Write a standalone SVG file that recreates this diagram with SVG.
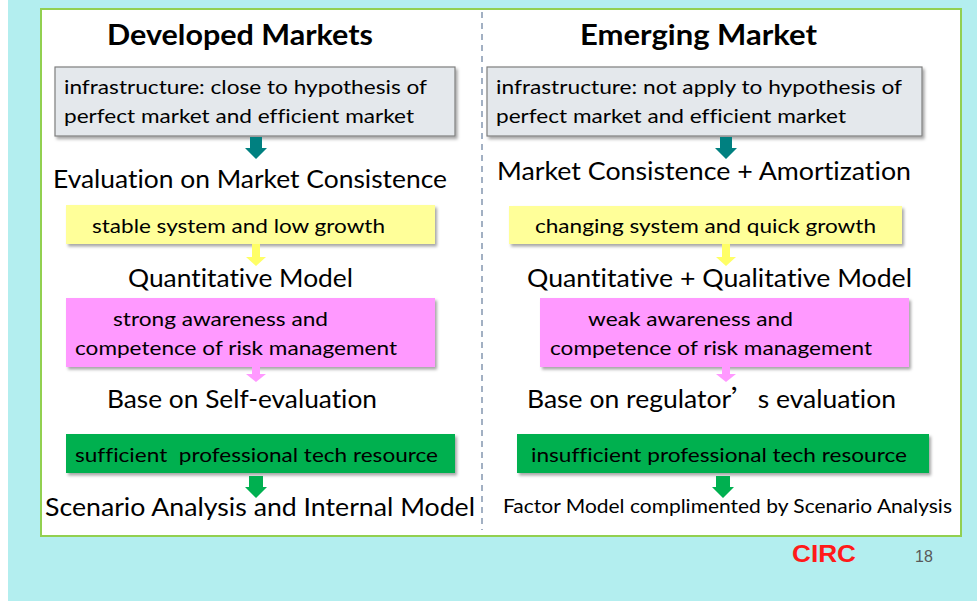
<svg xmlns="http://www.w3.org/2000/svg" width="977" height="601" viewBox="0 0 977 601">
<defs>
<filter id="sh" x="-5%" y="-10%" width="115%" height="140%">
<feDropShadow dx="2" dy="2.5" stdDeviation="1.5" flood-color="#000" flood-opacity="0.35"/>
</filter>
<style>
.t{font-family:Lato,"Open Sans","DejaVu Sans",sans-serif;fill:#000;font-variant-ligatures:none;font-feature-settings:"liga" 0,"clig" 0}
.h{font-weight:bold;font-size:28px}
.m{font-size:25px}
.b{font-size:20px}
.grey{fill:#e4e8ec;stroke:#7f7f7f;stroke-width:1.2}
.yel{fill:#ffff99}
.pink{fill:#ff99ff}
.grn{fill:#00b050}
</style>
</defs>
<rect x="0" y="0" width="977" height="601" fill="#b3eeef"/>
<rect x="0" y="0" width="8" height="601" fill="#ffffff"/>
<rect x="41" y="9" width="920" height="527" fill="#ffffff" stroke="#92d050" stroke-width="2"/>
<line x1="482" y1="12" x2="482" y2="530" stroke="#8497b0" stroke-width="1.5" stroke-dasharray="6,5"/>

<g id="title-dev"><text class="t h" x="107" y="45" textLength="266" lengthAdjust="spacingAndGlyphs">Developed Markets</text></g>
<g id="title-emg"><text class="t h" x="580" y="45" textLength="237" lengthAdjust="spacingAndGlyphs">Emerging Market</text></g>

<g id="infra-dev">
<rect class="grey" x="55" y="67" width="400" height="69" filter="url(#sh)"/>
<text class="t b" x="64" y="94" textLength="363" lengthAdjust="spacingAndGlyphs">infrastructure: close to hypothesis of</text>
<text class="t b" x="64" y="123" textLength="350" lengthAdjust="spacingAndGlyphs">perfect market and efficient market</text>
</g>
<g id="infra-emg">
<rect class="grey" x="487" y="67" width="435" height="69" filter="url(#sh)"/>
<text class="t b" x="496" y="94" textLength="406" lengthAdjust="spacingAndGlyphs">infrastructure: not apply to hypothesis of</text>
<text class="t b" x="496" y="123" textLength="350" lengthAdjust="spacingAndGlyphs">perfect market and efficient market</text>
</g>

<g id="eval-dev"><text class="t m" x="53" y="188" textLength="394" lengthAdjust="spacingAndGlyphs">Evaluation on Market Consistence</text></g>
<g id="eval-emg"><text class="t m" x="497" y="180" textLength="414" lengthAdjust="spacingAndGlyphs">Market Consistence + Amortization</text></g>

<g id="sys-dev">
<rect class="yel" x="66" y="205" width="369" height="39" filter="url(#sh)"/>
<text class="t b" x="92" y="233" textLength="293" lengthAdjust="spacingAndGlyphs">stable system and low growth</text>
</g>
<g id="sys-emg">
<rect class="yel" x="509" y="206" width="393" height="38" filter="url(#sh)"/>
<text class="t b" x="535" y="233" textLength="341" lengthAdjust="spacingAndGlyphs">changing system and quick growth</text>
</g>

<g id="model-dev"><text class="t m" x="128" y="287" textLength="225" lengthAdjust="spacingAndGlyphs">Quantitative Model</text></g>
<g id="model-emg"><text class="t m" x="527" y="287" textLength="385" lengthAdjust="spacingAndGlyphs">Quantitative + Qualitative Model</text></g>

<g id="risk-dev">
<rect class="pink" x="66" y="298" width="369" height="69" filter="url(#sh)"/>
<text class="t b" x="113" y="326" textLength="215" lengthAdjust="spacingAndGlyphs">strong awareness and</text>
<text class="t b" x="75" y="355" textLength="322" lengthAdjust="spacingAndGlyphs">competence of risk management</text>
</g>
<g id="risk-emg">
<rect class="pink" x="540" y="298" width="369" height="69" filter="url(#sh)"/>
<text class="t b" x="588" y="326" textLength="205" lengthAdjust="spacingAndGlyphs">weak awareness and</text>
<text class="t b" x="550" y="355" textLength="322" lengthAdjust="spacingAndGlyphs">competence of risk management</text>
</g>

<g id="base-dev"><text class="t m" x="107" y="408" textLength="270" lengthAdjust="spacingAndGlyphs">Base on Self-evaluation</text></g>
<g id="base-emg"><text class="t m" x="527" y="408" textLength="369" lengthAdjust="spacingAndGlyphs">Base on regulator<tspan font-family="'Noto Sans CJK SC',sans-serif">’</tspan>s evaluation</text></g>

<g id="tech-dev">
<rect class="grn" x="66" y="434" width="389" height="39" filter="url(#sh)"/>
<text class="t b" x="75" y="462" textLength="363" lengthAdjust="spacingAndGlyphs" xml:space="preserve">sufficient  professional tech resource</text>
</g>
<g id="tech-emg">
<rect class="grn" x="517" y="434" width="412" height="39" filter="url(#sh)"/>
<text class="t b" x="531" y="462" textLength="376" lengthAdjust="spacingAndGlyphs">insufficient professional tech resource</text>
</g>

<g id="out-dev"><text class="t m" x="45" y="516" textLength="430" lengthAdjust="spacingAndGlyphs">Scenario Analysis and Internal Model</text></g>
<g id="out-emg"><text class="t" font-size="18.5" x="503" y="513" textLength="449" lengthAdjust="spacingAndGlyphs">Factor Model complimented by Scenario Analysis</text></g>

<g id="connectors">
<path d="M250,137 H262 V148 H267 L256,159 L245,148 H250 Z" fill="#008080"/>
<path d="M720,137 H732 V148 H737 L726,159 L715,148 H720 Z" fill="#008080"/>
<path d="M252,244 H260 V257 H266 L256,266 L246,257 H252 Z" fill="#ffff66"/>
<path d="M722,244 H730 V257 H736 L726,266 L716,257 H722 Z" fill="#ffff66"/>
<path d="M252,367 H260 V374 H266 L256,382 L246,374 H252 Z" fill="#ff99ff"/>
<path d="M722,367 H730 V374 H736 L726,382 L716,374 H722 Z" fill="#ff99ff"/>
<path d="M249,476 H263 V487 H267 L256,498 L245,487 H249 Z" fill="#00b050"/>
<path d="M716,476 H730 V487 H734 L723,498 L712,487 H716 Z" fill="#00b050"/>
</g>

<g id="footer">
<text x="792" y="562" font-family="'Liberation Sans',Arial,sans-serif" font-weight="bold" font-size="23" fill="#ff1a1a" textLength="64" lengthAdjust="spacingAndGlyphs">CIRC</text>
<text x="915" y="562" font-family="'Liberation Sans',Arial,sans-serif" font-size="16" fill="#595959">18</text>
</g>
</svg>
